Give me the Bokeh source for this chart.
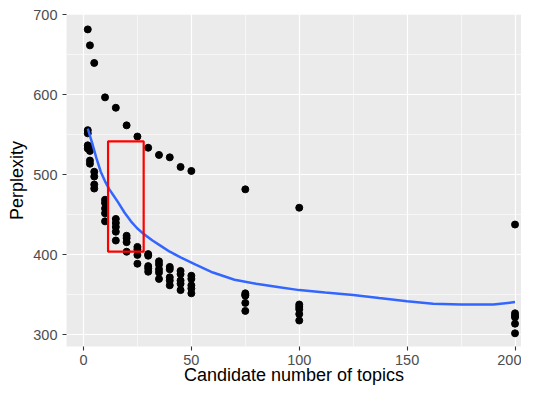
from bokeh.plotting import figure
from bokeh.models import Range1d, FixedTicker
from bokeh.embed import file_html
from bokeh.resources import INLINE

# ---- data ----
topics_top = [2, 3, 5, 10, 15, 20, 25, 30, 35, 40, 45, 50, 75, 100, 200]
perplexity_top = [682, 662, 640, 597, 584, 562, 548, 534, 525, 522, 510, 505, 482, 459, 438]

topics_low = ([2] * 4 + [3] * 4 + [5] * 4 + [10] * 5 + [15] * 5 + [20] * 4 + [25] * 4
              + [30] * 5 + [35] * 5 + [40] * 5 + [45] * 5 + [50] * 5 + [75] * 5
              + [100] * 5 + [200] * 5)
perplexity_low = [556, 552, 537, 533,
                  535, 530, 518, 514,
                  504, 498, 488, 483,
                  469, 465, 458, 452, 442,
                  445, 440, 435, 429, 418,
                  424, 421, 416, 404,
                  410, 407, 400, 389,
                  401, 399, 386, 383, 379,
                  392, 388, 382, 378, 370,
                  385, 382, 372, 368, 362,
                  380, 376, 368, 364, 356,
                  374, 370, 362, 358, 352,
                  352, 350, 349, 340, 330,
                  338, 335, 332, 326, 318,
                  327, 324, 322, 314, 302]

smooth_x = [2, 4, 6, 8, 10, 12, 14, 16, 19, 22, 25, 28, 32, 36, 40, 45, 52, 60, 70, 80,
            90, 100, 112, 125, 137, 150, 162, 175, 190, 200]
smooth_y = [558, 540, 521, 504, 492, 482, 474, 466, 453, 442, 433, 426, 418, 411, 404, 397,
            388, 378, 369, 364, 360, 356, 353, 350, 346, 342, 339, 338, 338, 341]

rect_left = [11.4]
rect_right = [27.9]
rect_bottom = [404]
rect_top = [542]

x_ticks = [0, 50, 100, 150, 200]
x_minor = [25, 75, 125, 175]
y_ticks = [300, 400, 500, 600, 700]
y_minor = [350, 450, 550, 650]

FONT = "Liberation Sans"

p = figure(width=521, height=389,
           x_range=Range1d(-7.86, 203.0), y_range=Range1d(285.5, 700.6),
           output_backend="svg", toolbar_location=None,
           min_border_left=66, min_border_right=0, min_border_top=14, min_border_bottom=43)

p.background_fill_color = "#EBEBEB"
p.border_fill_color = "white"
p.outline_line_color = None

p.xaxis.ticker = FixedTicker(ticks=x_ticks, minor_ticks=x_minor)
p.yaxis.ticker = FixedTicker(ticks=y_ticks, minor_ticks=y_minor)

for g in (p.xgrid, p.ygrid):
    g.grid_line_color = "white"
    g.grid_line_width = 1.2
    g.minor_grid_line_color = "white"
    g.minor_grid_line_width = 0.6

for ax in (p.xaxis, p.yaxis):
    ax.axis_line_color = None
    ax.major_tick_line_color = "#333333"
    ax.major_tick_line_width = 1.1
    ax.major_tick_out = 4
    ax.major_tick_in = 0
    ax.minor_tick_line_color = None
    ax.major_label_text_color = "#4D4D4D"
    ax.major_label_text_font = FONT
    ax.major_label_text_font_size = "14.5px"
    ax.axis_label_text_font = FONT
    ax.axis_label_text_font_size = "18px"
    ax.axis_label_text_font_style = "normal"
    ax.axis_label_text_color = "black"

p.xaxis.axis_label = "Candidate number of topics"
p.yaxis.axis_label = "Perplexity"
p.xaxis.major_label_standoff = 4
p.xaxis.axis_label_standoff = -3
p.yaxis.major_label_standoff = 5
p.yaxis.axis_label_standoff = 3

p.scatter(topics_top, perplexity_top, size=7, color="black")
p.scatter(topics_low, perplexity_low, size=7, color="black")
p.line(smooth_x, smooth_y, line_color="#3366FF", line_width=2.5)
p.quad(left=rect_left, right=rect_right, bottom=rect_bottom, top=rect_top,
       fill_color=None, line_color="red", line_width=2.2)

open("out.html", "w").write(file_html(p, INLINE))
